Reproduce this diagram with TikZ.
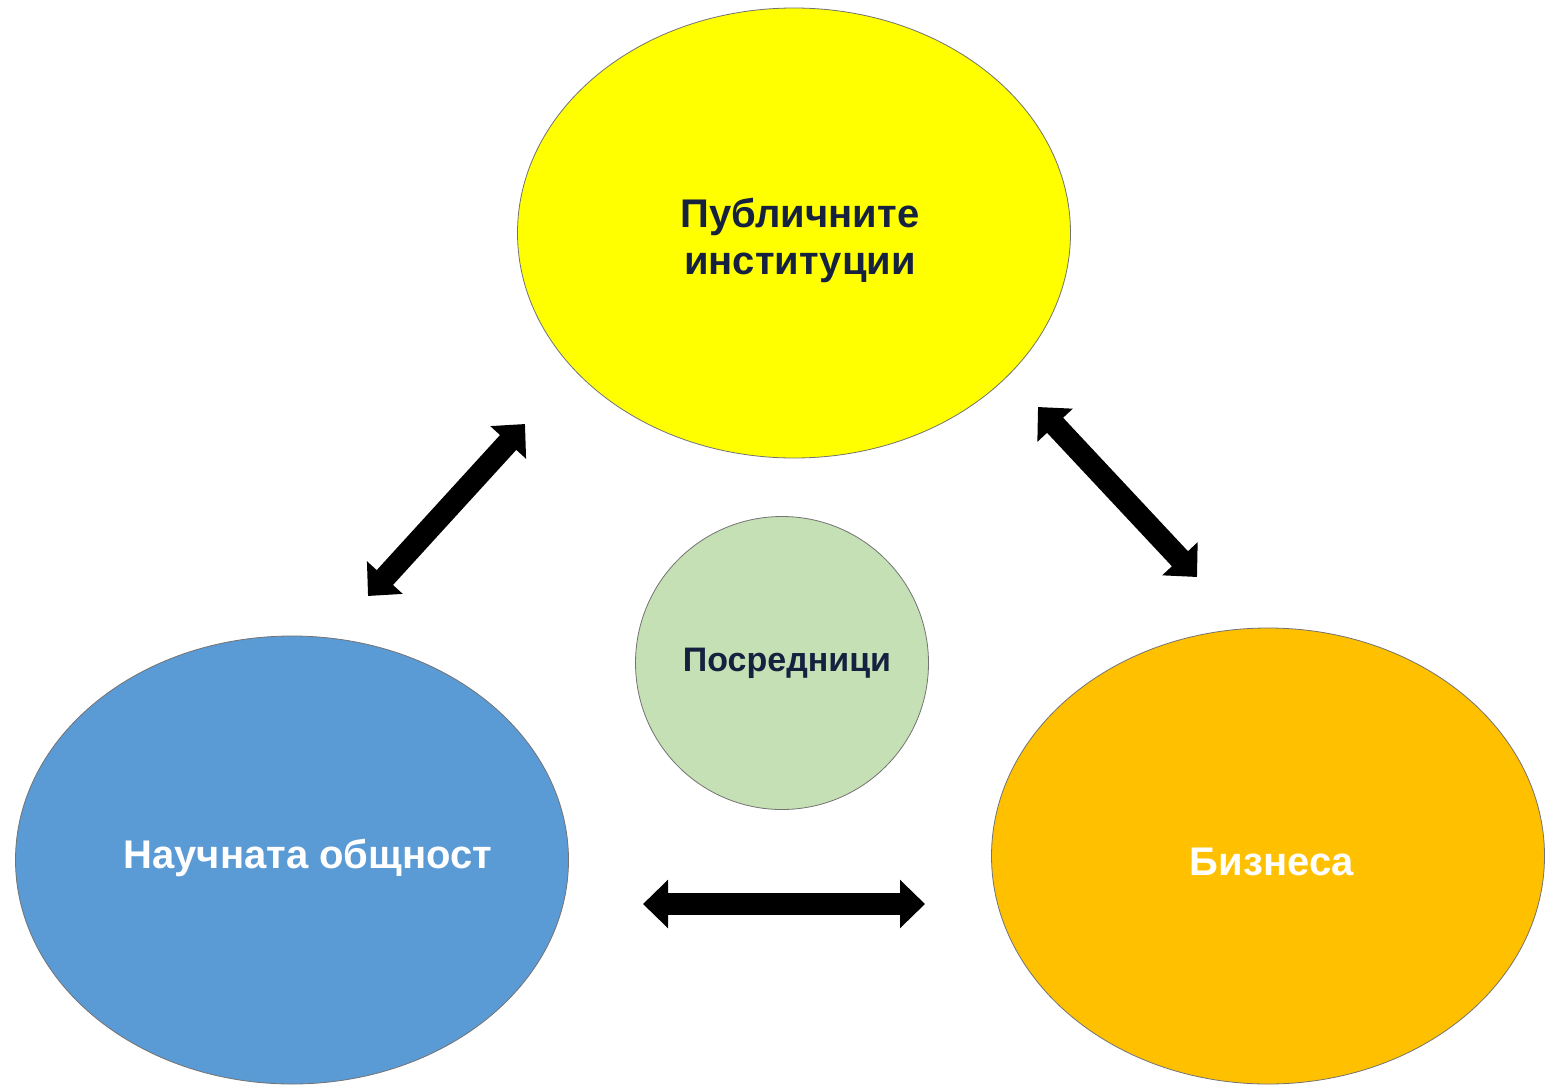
\documentclass[tikz,border=0pt]{standalone}
\usepackage{fontspec}
\setmainfont{Liberation Sans}
\usetikzlibrary{shapes.geometric,arrows.meta}
\definecolor{pubyellow}{HTML}{FFFF00}
\definecolor{sciblue}{HTML}{5B9BD5}
\definecolor{busorange}{HTML}{FFC000}
\definecolor{medgreen}{HTML}{C5E0B4}
\definecolor{navytext}{HTML}{15213F}
\begin{document}
\begin{tikzpicture}[x=0.5pt,y=-0.5pt,
	blob/.style={ellipse,draw=black!55,line width=0.4pt,inner sep=0pt,font=\bfseries\fontsize{20}{23.5}\selectfont,align=center},
	link/.style={line width=11pt,{Triangle[width=23.5pt,length=12.5pt]}-{Triangle[width=23.5pt,length=12.5pt]}}]
	\fill[white] (0,0) rectangle (1545,1086);
	\node[blob,fill=pubyellow,text=navytext,minimum width=276.5pt,minimum height=225pt] (pub) at (794,233) {};
	\node[text=navytext,font=\bfseries\fontsize{20}{23.5}\selectfont,align=center] (publbl) at (800,240) {Публичните\\институции};
	\node[blob,fill=sciblue,text=white,minimum width=276.5pt,minimum height=224pt] (sci) at (292,860) {};
	\node[text=white,font=\bfseries\fontsize{20}{24}\selectfont] (scilbl) at (308,858) {Научната общност};
	\node[blob,fill=busorange,text=white,minimum width=276.5pt,minimum height=228pt] (bus) at (1268,856) {};
	\node[text=white,font=\bfseries\fontsize{20}{24}\selectfont] (buslbl) at (1272,862) {Бизнеса};
	\node[blob,fill=medgreen,minimum width=146.5pt,minimum height=146.5pt] (med) at (782,663) {};
	\node[text=navytext,font=\bfseries\fontsize{17}{20}\selectfont] (medlbl) at (787,663) {Посредници};
	\coordinate (a1) at (368,596);
	\coordinate (a2) at (525,424);
	\coordinate (b1) at (1038,407);
	\coordinate (b2) at (1197,577);
	\coordinate (c1) at (643,904);
	\coordinate (c2) at (925,904);
	\draw[link] (a1) -- (a2);
	\draw[link] (b1) -- (b2);
	\draw[link] (c1) -- (c2);
\end{tikzpicture}
\end{document}
